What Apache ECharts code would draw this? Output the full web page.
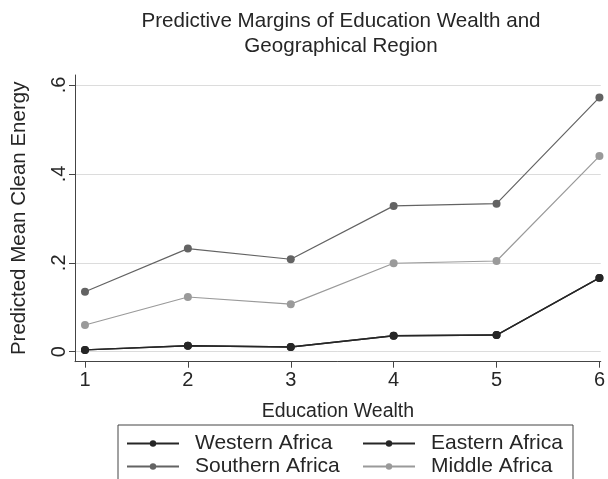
<!DOCTYPE html>
<html>
<head>
<meta charset="utf-8">
<script src="https://cdn.jsdelivr.net/npm/echarts@6/dist/echarts.min.js"></script>
<style>html,body{margin:0;padding:0;background:#fff}#c{width:608px;height:479px}</style>
</head>
<body>
<div id="c"></div>
<script>
const categories = [1, 2, 3, 4, 5, 6];
const westernAfrica = [0.004, 0.0135, 0.0105, 0.036, 0.0375, 0.166];
const easternAfrica = [0.004, 0.0135, 0.0105, 0.036, 0.0375, 0.166];
const southernAfrica = [0.135, 0.232, 0.208, 0.328, 0.333, 0.572];
const middleAfrica = [0.060, 0.123, 0.107, 0.199, 0.204, 0.440];
const yTicks = [0, 0.2, 0.4, 0.6];
const yTickLabels = ['0', '.2', '.4', '.6'];

const FONT = '"Liberation Sans", Arial, sans-serif';
const TXT = '#262626';
const pair = arr => categories.map((c, i) => [c, arr[i]]);

const chart = echarts.init(document.getElementById('c'), null, {renderer: 'canvas'});
const mk = (name, data, color, lw, z) => ({
  name, type: 'line', data: pair(data), symbol: 'circle', symbolSize: 8,
  lineStyle: {color, width: lw}, itemStyle: {color}, z, animation: false
});
const legendCommon = {
  orient: 'horizontal', padding: 0, itemWidth: 52, itemHeight: 8, itemGap: 12,
  textStyle: {fontFamily: FONT, fontSize: 21, color: TXT, padding: [0, 0, 0, 11]}
};
const leg = (name, left, top) => Object.assign({}, legendCommon, {left, top, data: [name]});
chart.setOption({
  animation: false,
  backgroundColor: '#fff',
  title: {
    text: 'Predictive Margins of Education Wealth and\nGeographical Region',
    left: 341, top: 9, padding: 0, textAlign: 'center',
    textStyle: {fontFamily: FONT, fontSize: 20.6, fontWeight: 'normal', color: TXT, lineHeight: 25}
  },
  grid: {left: 75, right: 4, top: 75, bottom: 117.3, containLabel: false},
  xAxis: {
    type: 'value', min: 0.903, max: 6.013,
    name: 'Education Wealth', nameLocation: 'middle', nameGap: 40,
    nameTextStyle: {fontFamily: FONT, fontSize: 19.5, color: TXT},
    axisLine: {show: true, onZero: false, lineStyle: {color: '#444', width: 1}},
    axisTick: {show: true, length: 6, lineStyle: {color: '#444'}, customValues: categories},
    axisLabel: {fontFamily: FONT, fontSize: 20, color: TXT, margin: 9, customValues: categories},
    splitLine: {show: false}
  },
  yAxis: {
    type: 'value', min: -0.0225, max: 0.6225,
    name: 'Predicted Mean Clean Energy', nameLocation: 'middle', nameGap: 45, nameRotate: 90,
    nameTextStyle: {fontFamily: FONT, fontSize: 20.5, color: TXT},
    axisLine: {show: true, lineStyle: {color: '#444', width: 1}},
    axisTick: {show: true, length: 6, lineStyle: {color: '#444'}, customValues: yTicks},
    axisLabel: {fontFamily: FONT, fontSize: 20, color: TXT, rotate: 90, margin: 6, customValues: yTicks,
      formatter: v => { const i = yTicks.findIndex(t => Math.abs(t - v) < 1e-9); return i >= 0 ? yTickLabels[i] : ''; }},
    splitLine: {show: true, lineStyle: {color: '#dcdcdc', width: 1}}
  },
  graphic: [{
    type: 'rect', z: 0, silent: true,
    shape: {x: 118, y: 425, width: 455, height: 80},
    style: {fill: '#fff', stroke: '#444', lineWidth: 1}
  }],
  legend: [
    leg('Western Africa', 126, 433),
    leg('Eastern Africa', 362, 433),
    leg('Southern Africa', 126, 456),
    leg('Middle Africa', 362, 456)
  ],
  series: [
    mk('Southern Africa', southernAfrica, '#636363', 1.2, 2),
    mk('Middle Africa', middleAfrica, '#9a9a9a', 1.2, 2),
    mk('Western Africa', westernAfrica, '#262626', 1.4, 3),
    mk('Eastern Africa', easternAfrica, '#262626', 1.4, 3)
  ]
});
</script>
</body>
</html>
